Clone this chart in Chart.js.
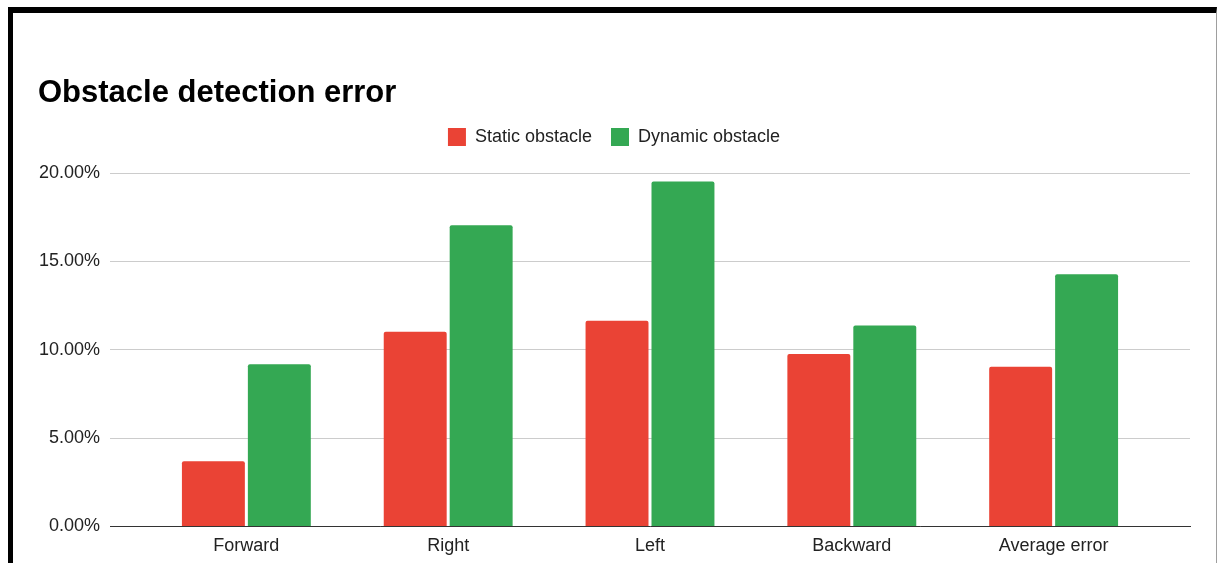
<!DOCTYPE html>
<html>
<head>
<meta charset="utf-8">
<script src="https://cdn.jsdelivr.net/npm/chart.js@4"></script>
<style>
  html, body { margin: 0; padding: 0; background: #fff; }
  #frame {
    position: absolute; left: 8px; top: 7px;
    width: 1203px; height: 550px;
    border-top: 6px solid #000;
    border-left: 5px solid #000;
    border-right: 1px solid #9e9e9e;
  }
  canvas { display: block; }
</style>
</head>
<body>
<div id="frame"><canvas id="myChart" width="1203" height="550"></canvas></div>
<script>
// Data (percent)
var categories = ['Forward', 'Right', 'Left', 'Backward', 'Average error'];
var staticError = [3.68, 11.02, 11.64, 9.75, 9.03];
var dynamicError = [9.18, 17.05, 19.52, 11.37, 14.27];
var yTicks = [0, 5, 10, 15, 20];

// linear x so the categories can sit inside the wider plot area like the original
function toPoints(values) {
    return values.map(function (v, i) { return { x: i, y: v }; });
}

var font = "'Liberation Sans', Arial, sans-serif";
var ctx = document.getElementById('myChart').getContext('2d');

// extra space under the legend, before the plot
var legendGap = {
    id: 'legendGap',
    beforeInit: function (chart) {
        var fit = chart.legend.fit;
        chart.legend.fit = function () {
            fit.call(this);
            this.height += 17;
        };
    }
};

var myChart = new Chart(ctx, {
    type: 'bar',
    data: {
        datasets: [{
            label: 'Static obstacle',
            data: toPoints(staticError),
            backgroundColor: '#EA4335',
            borderRadius: 2,
            categoryPercentage: 0.6535,
            barPercentage: 0.9545
        }, {
            label: 'Dynamic obstacle',
            data: toPoints(dynamicError),
            backgroundColor: '#34A853',
            borderRadius: 2,
            categoryPercentage: 0.6535,
            barPercentage: 0.9545
        }]
    },
    plugins: [legendGap],
    options: {
        responsive: false,
        animation: false,
        devicePixelRatio: 1,
        layout: { padding: { left: 25, right: 26, top: 0, bottom: -3 } },
        plugins: {
            title: {
                display: true,
                text: 'Obstacle detection error',
                align: 'start',
                color: '#000',
                font: { family: font, size: 31, weight: 'bold', lineHeight: 1.0 },
                padding: { top: 65, bottom: 0 }
            },
            legend: {
                labels: {
                    boxWidth: 18,
                    boxHeight: 18,
                    padding: 19,
                    color: '#222',
                    font: { family: font, size: 18 }
                }
            },
            tooltip: { enabled: false }
        },
        scales: {
            x: {
                type: 'linear',
                offset: false,
                min: -0.6757,
                max: 4.6757,
                grid: { display: false, drawTicks: false, offset: false },
                border: { display: true, color: '#333', width: 1 },
                afterBuildTicks: function (scale) {
                    scale.ticks = scale.ticks.filter(function (t) { return Number.isInteger(t.value); });
                },
                ticks: {
                    stepSize: 1,
                    padding: 9,
                    color: '#222',
                    font: { family: font, size: 18 },
                    callback: function (value) { return categories[value]; }
                }
            },
            y: {
                min: 0,
                max: 20,
                grid: { color: '#cccccc', drawTicks: false },
                border: { display: false },
                afterFit: function (scale) { scale.width = 72; },
                afterBuildTicks: function (scale) {
                    scale.ticks = yTicks.map(function (v) { return { value: v }; });
                },
                ticks: {
                    padding: 10,
                    color: '#222',
                    font: { family: font, size: 18 },
                    callback: function (value) { return value.toFixed(2) + '%'; }
                }
            }
        }
    }
});
</script>
</body>
</html>
